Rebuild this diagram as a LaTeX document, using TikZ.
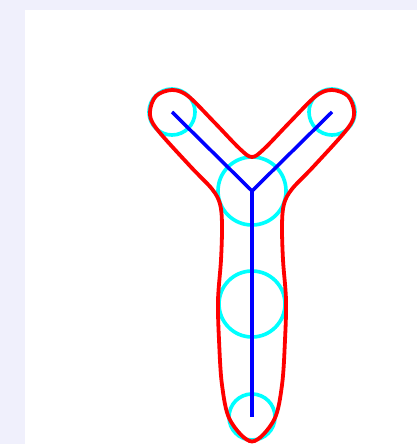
\documentclass[tikz,border=0pt]{standalone}
\definecolor{pagebg}{RGB}{240,240,252}
\definecolor{hullred}{RGB}{255,0,0}
\definecolor{boneblue}{RGB}{0,0,255}
\definecolor{ballcyan}{RGB}{0,255,255}
\usepackage{tikz}
\usetikzlibrary{calc}

\begin{document}
\begin{tikzpicture}[x=0.025cm,y=-0.025cm,
    bone/.style={boneblue,line width=2.5pt},
    ball/.style={ballcyan,line width=2.6pt},
    hull/.style={hullred,line width=2.7pt}]
        \fill[pagebg] (0,0) rectangle (417,444);
        \fill[white] (24.5,10) rectangle (417,444);
        % skeleton points
        \coordinate (tipL) at (172,112);
        \coordinate (tipR) at (332,112);
        \coordinate (fork) at (252,191);
        \coordinate (midS) at (252,304);
        \coordinate (base) at (252,417);
        % medial balls
        \draw[ball] (tipL) circle[radius=23];
        \draw[ball] (tipR) circle[radius=23];
        \draw[ball] (fork) circle[radius=34];
        \draw[ball] (midS) circle[radius=33];
        \draw[ball] (base) circle[radius=23];
        % outline
        \draw[hull] plot[smooth cycle,tension=0.55] coordinates {
          (252,157) (264,149) (290,122) (316,96) (332,90) (348,96) (354,112)
          (348,128) (314,166) (292,189) (284,204) (282,225) (283,260)
          (286,300) (285,340) (282,385) (274,420) (252,441.5)
          (230,420) (222,385) (219,340) (218,300) (221,260) (222,225)
          (220,204) (212,189) (190,166) (156,128) (150,112) (156,96)
          (172,90) (188,96) (214,122) (240,149)};
        % skeleton
        \draw[bone] (tipL) -- (fork) -- (tipR);
        \draw[bone] (fork) -- (base);
      \end{tikzpicture}
\end{document}
